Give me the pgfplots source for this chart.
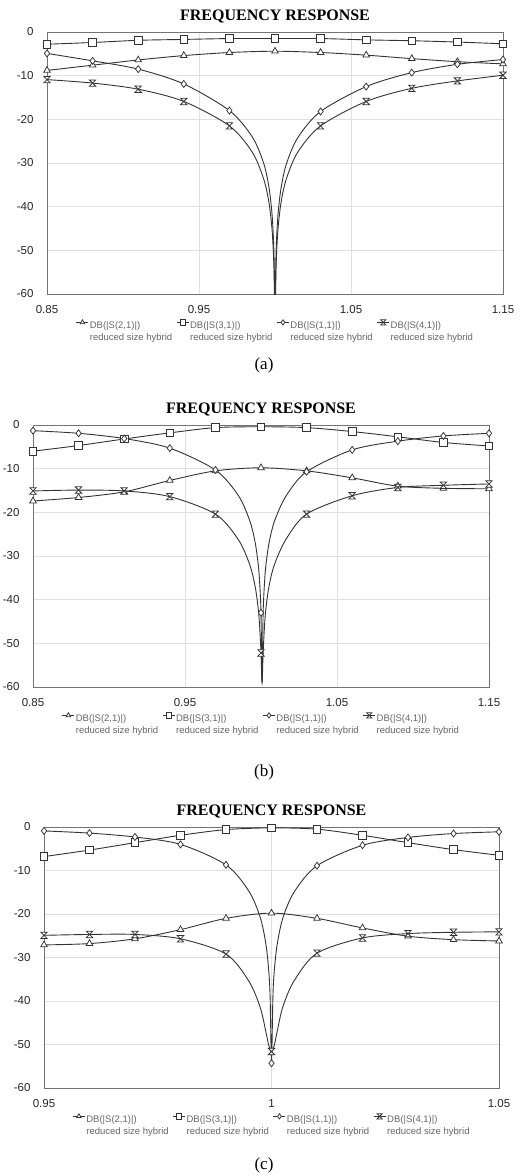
\documentclass[border=0pt]{standalone}
\usepackage{fontspec}
\setmainfont{Liberation Serif}
\setsansfont{Liberation Sans}
\usepackage{pgfplots}
\pgfplotsset{compat=1.18}

\newcommand\ticksfont{\sffamily\fontsize{11.5}{13}\selectfont}
\newcommand\legfont{\sffamily\fontsize{9.5}{11.5}\selectfont}
\newcommand\titlefont{\rmfamily\bfseries\fontsize{16}{18}\selectfont}
\newcommand\capfont{\rmfamily\fontsize{17}{19}\selectfont}

\colorlet{lc}{black!80}

% hourglass marker (two triangles tip to tip)
\pgfdeclareplotmark{hourglass}{%
  \pgfpathmoveto{\pgfqpoint{-\pgfplotmarksize}{\pgfplotmarksize}}%
  \pgfpathlineto{\pgfqpoint{\pgfplotmarksize}{\pgfplotmarksize}}%
  \pgfpathlineto{\pgfqpoint{-\pgfplotmarksize}{-\pgfplotmarksize}}%
  \pgfpathlineto{\pgfqpoint{\pgfplotmarksize}{-\pgfplotmarksize}}%
  \pgfpathclose
  \pgfusepathqfillstroke}

\pgfplotsset{
  hyb/.style={color=lc, line width=0.9pt, mark options={solid, fill=white, line width=0.75pt}},
  tri/.style={hyb, mark=triangle*, mark size=3.8pt},
  sq/.style={hyb, mark=square*, mark size=3.8pt},
  dia/.style={hyb, mark=diamond*, mark size=3.5pt},
  hg/.style={hyb, mark=hourglass, mark size=3.2pt},
  fr/.style={
    scale only axis, width=456pt, height=262pt,
    ymin=-60, ymax=0,
    ytick={-60,-50,-40,-30,-20,-10,0},
    yticklabels={-60,-50,-40,-30,-20,-10,0},
    grid=major, major grid style={black!12, line width=0.6pt},
    axis line style={black!55, line width=0.9pt},
    major tick length=0pt,
    tick label style={font=\ticksfont, text=black!85},
    yticklabel style={xshift=-10pt},
    xticklabel style={yshift=-8pt},
    title={FREQUENCY RESPONSE},
    title style={font=\titlefont, yshift=-1pt},
    legend columns=4,
    legend cell align=left,
    legend style={draw=none, fill=none, at={(0.5,-0.09)}, anchor=north,
      font=\legfont, text=black!60, nodes={align=left, inner xsep=1pt},
      /tikz/every even column/.append style={column sep=3pt}},
    legend image code/.code={%
      \draw[mark repeat=2,mark phase=2,#1,mark size=2.6pt,yshift=9.5pt]
        plot coordinates {(0pt,0pt) (6pt,0pt) (12pt,0pt)};},
  },
}

\begin{document}
\begin{tikzpicture}
\useasboundingbox (0,0) rectangle (528pt,-1176pt);

% ---------------- (a) ----------------
\begin{axis}[fr, at={(47pt,-32pt)}, anchor=north west,
  xmin=0.85, xmax=1.15, xtick={0.85,0.95,1.05,1.15},
  xticklabels={0.85,0.95,1.05,1.15}]
\addlegendimage{tri}\addlegendentry{DB(|S(2,1)|)\\reduced size hybrid}
\addlegendimage{sq}\addlegendentry{DB(|S(3,1)|)\\reduced size hybrid}
\addlegendimage{dia}\addlegendentry{DB(|S(1,1)|)\\reduced size hybrid}
\addlegendimage{hg}\addlegendentry{DB(|S(4,1)|)\\reduced size hybrid}
% S(2,1)
\addplot[hyb, smooth, forget plot] coordinates {(0.85,-8.8)(0.88,-7.6)(0.91,-6.4)(0.94,-5.4)(0.97,-4.7)(1.00,-4.4)(1.03,-4.7)(1.06,-5.3)(1.09,-6.1)(1.12,-6.8)(1.15,-7.3)};
\addplot[tri, only marks, forget plot] coordinates {(0.85,-8.8)(0.88,-7.6)(0.91,-6.4)(0.94,-5.4)(0.97,-4.7)(1.00,-4.4)(1.03,-4.7)(1.06,-5.3)(1.09,-6.1)(1.12,-6.8)(1.15,-7.3)};
% S(3,1)
\addplot[hyb, smooth, forget plot] coordinates {(0.85,-2.8)(0.88,-2.4)(0.91,-1.9)(0.94,-1.7)(0.97,-1.5)(1.00,-1.5)(1.03,-1.5)(1.06,-1.8)(1.09,-2.0)(1.12,-2.3)(1.15,-2.7)};
\addplot[sq, only marks, forget plot] coordinates {(0.85,-2.8)(0.88,-2.4)(0.91,-1.9)(0.94,-1.7)(0.97,-1.5)(1.00,-1.5)(1.03,-1.5)(1.06,-1.8)(1.09,-2.0)(1.12,-2.3)(1.15,-2.7)};
% S(1,1)
\addplot[hyb, smooth, forget plot] coordinates {(0.85,-4.9)(0.88,-6.6)(0.91,-8.5)(0.94,-11.9)(0.97,-18.0)(0.985,-24.0)(0.9925,-30.0)(0.996,-35.5)(0.998,-41.5)(0.999,-47.5)(0.9995,-53.6)(1.0,-66)(1.0005,-53.8)(1.001,-47.7)(1.002,-41.7)(1.004,-35.7)(1.0075,-30.2)(1.015,-24.2)(1.03,-18.2)(1.06,-12.5)(1.09,-9.3)(1.12,-7.4)(1.15,-6.3)};
\addplot[dia, only marks, forget plot] coordinates {(0.85,-4.9)(0.88,-6.6)(0.91,-8.5)(0.94,-11.9)(0.97,-18.0)(1.03,-18.2)(1.06,-12.5)(1.09,-9.3)(1.12,-7.4)(1.15,-6.3)};
% S(4,1)
\addplot[hyb, smooth, forget plot] coordinates {(0.85,-10.9)(0.88,-11.7)(0.91,-13.1)(0.94,-15.9)(0.97,-21.5)(0.985,-27.5)(0.9925,-33.6)(0.996,-39.0)(0.998,-45.0)(0.999,-51.1)(0.9995,-57.1)(1.0,-70)(1.0005,-57.1)(1.001,-51.1)(1.002,-45.0)(1.004,-39.0)(1.0075,-33.6)(1.015,-27.5)(1.03,-21.5)(1.06,-15.9)(1.09,-12.9)(1.12,-11.2)(1.15,-9.9)};
\addplot[hg, only marks, forget plot] coordinates {(0.85,-10.9)(0.88,-11.7)(0.91,-13.1)(0.94,-15.9)(0.97,-21.5)(1.03,-21.5)(1.06,-15.9)(1.09,-12.9)(1.12,-11.2)(1.15,-9.9)};
\end{axis}
\node[font=\capfont] at (264pt,-365pt) {(a)};

% ---------------- (b) ----------------
\begin{axis}[fr, at={(33pt,-425pt)}, anchor=north west,
  xmin=0.85, xmax=1.15, xtick={0.85,0.95,1.05,1.15},
  xticklabels={0.85,0.95,1.05,1.15}]
\addlegendimage{tri}\addlegendentry{DB(|S(2,1)|)\\reduced size hybrid}
\addlegendimage{sq}\addlegendentry{DB(|S(3,1)|)\\reduced size hybrid}
\addlegendimage{dia}\addlegendentry{DB(|S(1,1)|)\\reduced size hybrid}
\addlegendimage{hg}\addlegendentry{DB(|S(4,1)|)\\reduced size hybrid}
% S(2,1)
\addplot[hyb, smooth, forget plot] coordinates {(0.85,-17.4)(0.88,-16.6)(0.91,-15.3)(0.94,-12.7)(0.97,-10.5)(1.00,-9.8)(1.03,-10.5)(1.06,-12.1)(1.09,-14.0)(1.12,-14.5)(1.15,-14.6)};
\addplot[tri, only marks, forget plot] coordinates {(0.85,-17.4)(0.88,-16.6)(0.91,-15.3)(0.94,-12.7)(0.97,-10.5)(1.00,-9.8)(1.03,-10.5)(1.06,-12.1)(1.09,-14.0)(1.12,-14.5)(1.15,-14.6)};
% S(3,1)
\addplot[hyb, smooth, forget plot] coordinates {(0.85,-6.0)(0.88,-4.7)(0.91,-3.2)(0.94,-1.8)(0.97,-0.6)(1.00,-0.4)(1.03,-0.6)(1.06,-1.5)(1.09,-2.7)(1.12,-4.0)(1.15,-4.8)};
\addplot[sq, only marks, forget plot] coordinates {(0.85,-6.0)(0.88,-4.7)(0.91,-3.2)(0.94,-1.8)(0.97,-0.6)(1.00,-0.4)(1.03,-0.6)(1.06,-1.5)(1.09,-2.7)(1.12,-4.0)(1.15,-4.8)};
% S(1,1)
\addplot[hyb, smooth, forget plot] coordinates {(0.85,-1.3)(0.88,-1.9)(0.91,-3.1)(0.94,-5.3)(0.97,-10.3)(0.985,-16.1)(0.9925,-21.8)(0.996,-26.6)(0.998,-31.4)(0.999,-35.4)(1.0,-43.0)(1.0007,-59)(1.0014,-43.1)(1.0024,-35.6)(1.0034,-31.6)(1.0054,-26.8)(1.0089,-22.0)(1.0164,-16.3)(1.03,-10.7)(1.06,-5.7)(1.09,-3.7)(1.12,-2.5)(1.15,-1.9)};
\addplot[dia, only marks, forget plot] coordinates {(0.85,-1.3)(0.88,-1.9)(0.91,-3.1)(0.94,-5.3)(0.97,-10.3)(1.0,-43.0)(1.03,-10.7)(1.06,-5.7)(1.09,-3.7)(1.12,-2.5)(1.15,-1.9)};
% S(4,1)
\addplot[hyb, smooth, forget plot] coordinates {(0.85,-15.1)(0.88,-14.9)(0.91,-15.1)(0.94,-16.4)(0.97,-20.4)(0.985,-26.2)(0.9925,-31.9)(0.996,-36.7)(0.998,-41.5)(0.999,-45.5)(1.0,-52.2)(1.0007,-59)(1.0014,-52.2)(1.0024,-45.5)(1.0034,-41.5)(1.0054,-36.7)(1.0089,-31.9)(1.0164,-26.2)(1.03,-20.4)(1.06,-16.2)(1.09,-14.3)(1.12,-13.8)(1.15,-13.5)};
\addplot[hg, only marks, forget plot] coordinates {(0.85,-15.1)(0.88,-14.9)(0.91,-15.1)(0.94,-16.4)(0.97,-20.4)(1.0,-52.2)(1.03,-20.4)(1.06,-16.2)(1.09,-14.3)(1.12,-13.8)(1.15,-13.5)};
\end{axis}
\node[font=\capfont] at (264pt,-772pt) {(b)};

% ---------------- (c) ----------------
\begin{axis}[fr, at={(44pt,-827pt)}, anchor=north west, width=455pt, height=261pt,
  xmin=0.95, xmax=1.05, xtick={0.95,1,1.05},
  xticklabels={0.95,1,1.05}]
\addlegendimage{tri}\addlegendentry{DB(|S(2,1)|)\\reduced size hybrid}
\addlegendimage{sq}\addlegendentry{DB(|S(3,1)|)\\reduced size hybrid}
\addlegendimage{dia}\addlegendentry{DB(|S(1,1)|)\\reduced size hybrid}
\addlegendimage{hg}\addlegendentry{DB(|S(4,1)|)\\reduced size hybrid}
% S(2,1)
\addplot[hyb, smooth, forget plot] coordinates {(0.95,-27.1)(0.96,-26.8)(0.97,-25.7)(0.98,-23.6)(0.99,-21.0)(1.00,-19.8)(1.01,-21.0)(1.02,-23.2)(1.03,-25.1)(1.04,-25.9)(1.05,-26.2)};
\addplot[tri, only marks, forget plot] coordinates {(0.95,-27.1)(0.96,-26.8)(0.97,-25.7)(0.98,-23.6)(0.99,-21.0)(1.00,-19.8)(1.01,-21.0)(1.02,-23.2)(1.03,-25.1)(1.04,-25.9)(1.05,-26.2)};
% S(3,1)
\addplot[hyb, smooth, forget plot] coordinates {(0.95,-6.8)(0.96,-5.3)(0.97,-3.6)(0.98,-1.9)(0.99,-0.6)(1.00,-0.2)(1.01,-0.5)(1.02,-1.9)(1.03,-3.6)(1.04,-5.2)(1.05,-6.5)};
\addplot[sq, only marks, forget plot] coordinates {(0.95,-6.8)(0.96,-5.3)(0.97,-3.6)(0.98,-1.9)(0.99,-0.6)(1.00,-0.2)(1.01,-0.5)(1.02,-1.9)(1.03,-3.6)(1.04,-5.2)(1.05,-6.5)};
% S(1,1)
\addplot[hyb, smooth, forget plot] coordinates {(0.95,-0.9)(0.96,-1.4)(0.97,-2.3)(0.98,-4.0)(0.99,-8.7)(0.995,-14.7)(0.9975,-20.7)(0.99875,-26.8)(0.9994,-33.1)(0.9997,-39.2)(1.0,-54.3)(1.0003,-39.3)(1.0006,-33.2)(1.00125,-27.0)(1.0025,-20.9)(1.005,-14.9)(1.01,-8.9)(1.02,-4.2)(1.03,-2.4)(1.04,-1.5)(1.05,-1.1)};
\addplot[dia, only marks, forget plot] coordinates {(0.95,-0.9)(0.96,-1.4)(0.97,-2.3)(0.98,-4.0)(0.99,-8.7)(1.0,-54.3)(1.01,-8.9)(1.02,-4.2)(1.03,-2.4)(1.04,-1.5)(1.05,-1.1)};
% S(4,1)
\addplot[hyb, smooth, forget plot] coordinates {(0.95,-24.9)(0.96,-24.7)(0.97,-24.7)(0.98,-25.7)(0.99,-29.2)(0.995,-35.4)(0.9975,-41.4)(0.99875,-47.0)(0.9994,-50.2)(1.0,-51.6)(1.0006,-50.2)(1.00125,-47.0)(1.0025,-41.3)(1.005,-35.3)(1.01,-29.0)(1.02,-25.5)(1.03,-24.5)(1.04,-24.2)(1.05,-24.1)};
\addplot[hg, only marks, forget plot] coordinates {(0.95,-24.9)(0.96,-24.7)(0.97,-24.7)(0.98,-25.7)(0.99,-29.2)(1.0,-51.6)(1.01,-29.0)(1.02,-25.5)(1.03,-24.5)(1.04,-24.2)(1.05,-24.1)};
\end{axis}
\node[font=\capfont] at (264pt,-1165pt) {(c)};
\end{tikzpicture}
\end{document}
